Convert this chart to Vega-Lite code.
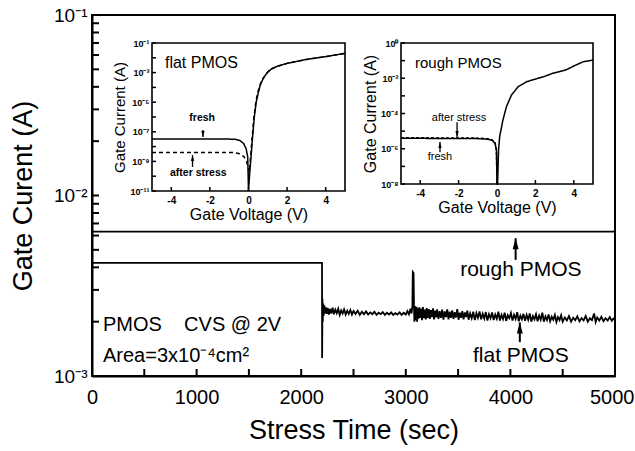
{
  "$schema": "https://vega.github.io/schema/vega-lite/v6.json",
  "width": 523,
  "height": 361,
  "autosize": "none",
  "padding": {"left": 92, "top": 15, "right": 20, "bottom": 75},
  "background": "white",
  "config": {
    "view": {"stroke": "black", "strokeWidth": 2},
    "axis": {"grid": false, "labelFont": "Liberation Sans", "titleFont": "Liberation Sans", "titleFontWeight": "normal", "labelColor": "black", "titleColor": "black", "domainColor": "black", "tickColor": "black", "labelOverlap": false, "labelFlush": false},
    "text": {"font": "Liberation Sans", "color": "black"}
  },
  "datasets": {
    "main": [
      {"t": 0, "I": 0.0063, "s": "rough PMOS"},
      {"t": 5000, "I": 0.0063, "s": "rough PMOS"},
      {"t": 0, "I": 0.00423, "s": "flat PMOS"},
      {"t": 2199, "I": 0.00423, "s": "flat PMOS"},
      {"t": 2200, "I": 0.00126, "s": "flat PMOS"},
      {"t": 2203, "I": 0.00268, "s": "flat PMOS"},
      {"t": 2206, "I": 0.00200, "s": "flat PMOS"},
      {"t": 2210, "I": 0.00252, "s": "flat PMOS"},
      {"t": 2215, "I": 0.00216, "s": "flat PMOS"},
      {"t": 2221, "I": 0.00246, "s": "flat PMOS"},
      {"t": 2228, "I": 0.00222, "s": "flat PMOS"},
      {"t": 2236, "I": 0.00240, "s": "flat PMOS"},
      {"t": 2245, "I": 0.00221, "s": "flat PMOS"},
      {"t": 2255, "I": 0.00238, "s": "flat PMOS"},
      {"t": 2265, "I": 0.00219, "s": "flat PMOS"},
      {"t": 2276, "I": 0.00235, "s": "flat PMOS"},
      {"t": 2288, "I": 0.00222, "s": "flat PMOS"},
      {"t": 2300, "I": 0.00239, "s": "flat PMOS"},
      {"t": 2313, "I": 0.00220, "s": "flat PMOS"},
      {"t": 2326, "I": 0.00233, "s": "flat PMOS"},
      {"t": 2340, "I": 0.00223, "s": "flat PMOS"},
      {"t": 2354, "I": 0.00236, "s": "flat PMOS"},
      {"t": 2368, "I": 0.00218, "s": "flat PMOS"},
      {"t": 2382, "I": 0.00231, "s": "flat PMOS"},
      {"t": 2396, "I": 0.00222, "s": "flat PMOS"},
      {"t": 2410, "I": 0.00234, "s": "flat PMOS"},
      {"t": 2425, "I": 0.00219, "s": "flat PMOS"},
      {"t": 2440, "I": 0.00230, "s": "flat PMOS"},
      {"t": 2455, "I": 0.00221, "s": "flat PMOS"},
      {"t": 2470, "I": 0.00232, "s": "flat PMOS"},
      {"t": 2485, "I": 0.00219, "s": "flat PMOS"},
      {"t": 2500, "I": 0.00229, "s": "flat PMOS"},
      {"t": 2520, "I": 0.00221, "s": "flat PMOS"},
      {"t": 2540, "I": 0.00230, "s": "flat PMOS"},
      {"t": 2560, "I": 0.00218, "s": "flat PMOS"},
      {"t": 2580, "I": 0.00227, "s": "flat PMOS"},
      {"t": 2600, "I": 0.00220, "s": "flat PMOS"},
      {"t": 2620, "I": 0.00228, "s": "flat PMOS"},
      {"t": 2640, "I": 0.00219, "s": "flat PMOS"},
      {"t": 2660, "I": 0.00225, "s": "flat PMOS"},
      {"t": 2680, "I": 0.00220, "s": "flat PMOS"},
      {"t": 2700, "I": 0.00227, "s": "flat PMOS"},
      {"t": 2720, "I": 0.00218, "s": "flat PMOS"},
      {"t": 2740, "I": 0.00224, "s": "flat PMOS"},
      {"t": 2760, "I": 0.00220, "s": "flat PMOS"},
      {"t": 2780, "I": 0.00226, "s": "flat PMOS"},
      {"t": 2800, "I": 0.00218, "s": "flat PMOS"},
      {"t": 2820, "I": 0.00224, "s": "flat PMOS"},
      {"t": 2840, "I": 0.00219, "s": "flat PMOS"},
      {"t": 2860, "I": 0.00225, "s": "flat PMOS"},
      {"t": 2880, "I": 0.00218, "s": "flat PMOS"},
      {"t": 2900, "I": 0.00223, "s": "flat PMOS"},
      {"t": 2920, "I": 0.00219, "s": "flat PMOS"},
      {"t": 2940, "I": 0.00225, "s": "flat PMOS"},
      {"t": 2960, "I": 0.00218, "s": "flat PMOS"},
      {"t": 2980, "I": 0.00224, "s": "flat PMOS"},
      {"t": 3000, "I": 0.00219, "s": "flat PMOS"},
      {"t": 3015, "I": 0.00229, "s": "flat PMOS"},
      {"t": 3030, "I": 0.00220, "s": "flat PMOS"},
      {"t": 3045, "I": 0.00236, "s": "flat PMOS"},
      {"t": 3055, "I": 0.00222, "s": "flat PMOS"},
      {"t": 3063, "I": 0.00245, "s": "flat PMOS"},
      {"t": 3067, "I": 0.00377, "s": "flat PMOS"},
      {"t": 3074, "I": 0.00372, "s": "flat PMOS"},
      {"t": 3078, "I": 0.00250, "s": "flat PMOS"},
      {"t": 3082, "I": 0.00200, "s": "flat PMOS"},
      {"t": 3088, "I": 0.00244, "s": "flat PMOS"},
      {"t": 3095, "I": 0.00204, "s": "flat PMOS"},
      {"t": 3102, "I": 0.00242, "s": "flat PMOS"},
      {"t": 3108, "I": 0.00200, "s": "flat PMOS"},
      {"t": 3115, "I": 0.00238, "s": "flat PMOS"},
      {"t": 3122, "I": 0.00208, "s": "flat PMOS"},
      {"t": 3130, "I": 0.00240, "s": "flat PMOS"},
      {"t": 3138, "I": 0.00210, "s": "flat PMOS"},
      {"t": 3146, "I": 0.00236, "s": "flat PMOS"},
      {"t": 3155, "I": 0.00204, "s": "flat PMOS"},
      {"t": 3164, "I": 0.00241, "s": "flat PMOS"},
      {"t": 3173, "I": 0.00209, "s": "flat PMOS"},
      {"t": 3182, "I": 0.00233, "s": "flat PMOS"},
      {"t": 3191, "I": 0.00206, "s": "flat PMOS"},
      {"t": 3200, "I": 0.00238, "s": "flat PMOS"},
      {"t": 3210, "I": 0.00210, "s": "flat PMOS"},
      {"t": 3220, "I": 0.00235, "s": "flat PMOS"},
      {"t": 3230, "I": 0.00207, "s": "flat PMOS"},
      {"t": 3240, "I": 0.00232, "s": "flat PMOS"},
      {"t": 3250, "I": 0.00212, "s": "flat PMOS"},
      {"t": 3260, "I": 0.00237, "s": "flat PMOS"},
      {"t": 3270, "I": 0.00206, "s": "flat PMOS"},
      {"t": 3280, "I": 0.00230, "s": "flat PMOS"},
      {"t": 3290, "I": 0.00211, "s": "flat PMOS"},
      {"t": 3300, "I": 0.00234, "s": "flat PMOS"},
      {"t": 3312, "I": 0.00207, "s": "flat PMOS"},
      {"t": 3324, "I": 0.00229, "s": "flat PMOS"},
      {"t": 3336, "I": 0.00210, "s": "flat PMOS"},
      {"t": 3348, "I": 0.00233, "s": "flat PMOS"},
      {"t": 3360, "I": 0.00205, "s": "flat PMOS"},
      {"t": 3372, "I": 0.00228, "s": "flat PMOS"},
      {"t": 3384, "I": 0.00212, "s": "flat PMOS"},
      {"t": 3396, "I": 0.00234, "s": "flat PMOS"},
      {"t": 3408, "I": 0.00206, "s": "flat PMOS"},
      {"t": 3420, "I": 0.00227, "s": "flat PMOS"},
      {"t": 3432, "I": 0.00210, "s": "flat PMOS"},
      {"t": 3444, "I": 0.00231, "s": "flat PMOS"},
      {"t": 3456, "I": 0.00207, "s": "flat PMOS"},
      {"t": 3468, "I": 0.00226, "s": "flat PMOS"},
      {"t": 3480, "I": 0.00211, "s": "flat PMOS"},
      {"t": 3492, "I": 0.00235, "s": "flat PMOS"},
      {"t": 3504, "I": 0.00205, "s": "flat PMOS"},
      {"t": 3516, "I": 0.00224, "s": "flat PMOS"},
      {"t": 3528, "I": 0.00210, "s": "flat PMOS"},
      {"t": 3540, "I": 0.00229, "s": "flat PMOS"},
      {"t": 3552, "I": 0.00206, "s": "flat PMOS"},
      {"t": 3564, "I": 0.00225, "s": "flat PMOS"},
      {"t": 3576, "I": 0.00212, "s": "flat PMOS"},
      {"t": 3588, "I": 0.00230, "s": "flat PMOS"},
      {"t": 3600, "I": 0.00205, "s": "flat PMOS"},
      {"t": 3615, "I": 0.00222, "s": "flat PMOS"},
      {"t": 3630, "I": 0.00209, "s": "flat PMOS"},
      {"t": 3645, "I": 0.00227, "s": "flat PMOS"},
      {"t": 3660, "I": 0.00204, "s": "flat PMOS"},
      {"t": 3675, "I": 0.00223, "s": "flat PMOS"},
      {"t": 3690, "I": 0.00210, "s": "flat PMOS"},
      {"t": 3705, "I": 0.00228, "s": "flat PMOS"},
      {"t": 3720, "I": 0.00206, "s": "flat PMOS"},
      {"t": 3735, "I": 0.00221, "s": "flat PMOS"},
      {"t": 3750, "I": 0.00208, "s": "flat PMOS"},
      {"t": 3765, "I": 0.00226, "s": "flat PMOS"},
      {"t": 3780, "I": 0.00203, "s": "flat PMOS"},
      {"t": 3795, "I": 0.00220, "s": "flat PMOS"},
      {"t": 3810, "I": 0.00209, "s": "flat PMOS"},
      {"t": 3825, "I": 0.00225, "s": "flat PMOS"},
      {"t": 3840, "I": 0.00204, "s": "flat PMOS"},
      {"t": 3855, "I": 0.00219, "s": "flat PMOS"},
      {"t": 3870, "I": 0.00208, "s": "flat PMOS"},
      {"t": 3885, "I": 0.00227, "s": "flat PMOS"},
      {"t": 3900, "I": 0.00203, "s": "flat PMOS"},
      {"t": 3915, "I": 0.00218, "s": "flat PMOS"},
      {"t": 3930, "I": 0.00207, "s": "flat PMOS"},
      {"t": 3945, "I": 0.00224, "s": "flat PMOS"},
      {"t": 3960, "I": 0.00202, "s": "flat PMOS"},
      {"t": 3975, "I": 0.00217, "s": "flat PMOS"},
      {"t": 3990, "I": 0.00209, "s": "flat PMOS"},
      {"t": 4005, "I": 0.00223, "s": "flat PMOS"},
      {"t": 4020, "I": 0.00203, "s": "flat PMOS"},
      {"t": 4035, "I": 0.00218, "s": "flat PMOS"},
      {"t": 4050, "I": 0.00207, "s": "flat PMOS"},
      {"t": 4065, "I": 0.00226, "s": "flat PMOS"},
      {"t": 4080, "I": 0.00201, "s": "flat PMOS"},
      {"t": 4095, "I": 0.00216, "s": "flat PMOS"},
      {"t": 4110, "I": 0.00206, "s": "flat PMOS"},
      {"t": 4125, "I": 0.00221, "s": "flat PMOS"},
      {"t": 4140, "I": 0.00202, "s": "flat PMOS"},
      {"t": 4155, "I": 0.00218, "s": "flat PMOS"},
      {"t": 4170, "I": 0.00205, "s": "flat PMOS"},
      {"t": 4185, "I": 0.00222, "s": "flat PMOS"},
      {"t": 4200, "I": 0.00200, "s": "flat PMOS"},
      {"t": 4215, "I": 0.00215, "s": "flat PMOS"},
      {"t": 4230, "I": 0.00206, "s": "flat PMOS"},
      {"t": 4245, "I": 0.00220, "s": "flat PMOS"},
      {"t": 4260, "I": 0.00201, "s": "flat PMOS"},
      {"t": 4275, "I": 0.00216, "s": "flat PMOS"},
      {"t": 4290, "I": 0.00205, "s": "flat PMOS"},
      {"t": 4305, "I": 0.00224, "s": "flat PMOS"},
      {"t": 4320, "I": 0.00200, "s": "flat PMOS"},
      {"t": 4335, "I": 0.00214, "s": "flat PMOS"},
      {"t": 4350, "I": 0.00204, "s": "flat PMOS"},
      {"t": 4365, "I": 0.00219, "s": "flat PMOS"},
      {"t": 4380, "I": 0.00201, "s": "flat PMOS"},
      {"t": 4395, "I": 0.00213, "s": "flat PMOS"},
      {"t": 4410, "I": 0.00205, "s": "flat PMOS"},
      {"t": 4425, "I": 0.00218, "s": "flat PMOS"},
      {"t": 4440, "I": 0.00199, "s": "flat PMOS"},
      {"t": 4455, "I": 0.00212, "s": "flat PMOS"},
      {"t": 4470, "I": 0.00204, "s": "flat PMOS"},
      {"t": 4485, "I": 0.00217, "s": "flat PMOS"},
      {"t": 4500, "I": 0.00200, "s": "flat PMOS"},
      {"t": 4520, "I": 0.00211, "s": "flat PMOS"},
      {"t": 4540, "I": 0.00203, "s": "flat PMOS"},
      {"t": 4560, "I": 0.00215, "s": "flat PMOS"},
      {"t": 4580, "I": 0.00200, "s": "flat PMOS"},
      {"t": 4600, "I": 0.00210, "s": "flat PMOS"},
      {"t": 4620, "I": 0.00204, "s": "flat PMOS"},
      {"t": 4640, "I": 0.00214, "s": "flat PMOS"},
      {"t": 4660, "I": 0.00201, "s": "flat PMOS"},
      {"t": 4680, "I": 0.00209, "s": "flat PMOS"},
      {"t": 4700, "I": 0.00203, "s": "flat PMOS"},
      {"t": 4720, "I": 0.00215, "s": "flat PMOS"},
      {"t": 4740, "I": 0.00200, "s": "flat PMOS"},
      {"t": 4760, "I": 0.00209, "s": "flat PMOS"},
      {"t": 4780, "I": 0.00204, "s": "flat PMOS"},
      {"t": 4800, "I": 0.00222, "s": "flat PMOS"},
      {"t": 4815, "I": 0.00199, "s": "flat PMOS"},
      {"t": 4830, "I": 0.00211, "s": "flat PMOS"},
      {"t": 4850, "I": 0.00203, "s": "flat PMOS"},
      {"t": 4870, "I": 0.00213, "s": "flat PMOS"},
      {"t": 4890, "I": 0.00201, "s": "flat PMOS"},
      {"t": 4910, "I": 0.00209, "s": "flat PMOS"},
      {"t": 4930, "I": 0.00203, "s": "flat PMOS"},
      {"t": 4950, "I": 0.00212, "s": "flat PMOS"},
      {"t": 4970, "I": 0.00202, "s": "flat PMOS"},
      {"t": 4985, "I": 0.00208, "s": "flat PMOS"},
      {"t": 5000, "I": 0.00205, "s": "flat PMOS"}
    ],
    "inset1": [
      {"v": -5, "i": 3.2e-8, "s": "fresh"},
      {"v": -1, "i": 3.2e-8, "s": "fresh"},
      {"v": -0.7, "i": 3.1e-8, "s": "fresh"},
      {"v": -0.45, "i": 2.6e-8, "s": "fresh"},
      {"v": -0.25, "i": 1.6e-8, "s": "fresh"},
      {"v": -0.12, "i": 7e-9, "s": "fresh"},
      {"v": -0.04, "i": 2e-9, "s": "fresh"},
      {"v": 0, "i": 1e-11, "s": "fresh"},
      {"v": 0.06, "i": 1.5e-10, "s": "fresh"},
      {"v": 0.12, "i": 1.3e-9, "s": "fresh"},
      {"v": 0.2, "i": 3e-8, "s": "fresh"},
      {"v": 0.3, "i": 1e-6, "s": "fresh"},
      {"v": 0.4, "i": 1e-5, "s": "fresh"},
      {"v": 0.5, "i": 4e-5, "s": "fresh"},
      {"v": 0.6, "i": 1.3e-4, "s": "fresh"},
      {"v": 0.73, "i": 3.3e-4, "s": "fresh"},
      {"v": 0.85, "i": 6e-4, "s": "fresh"},
      {"v": 1.0, "i": 1.1e-3, "s": "fresh"},
      {"v": 1.2, "i": 1.8e-3, "s": "fresh"},
      {"v": 1.5, "i": 2.7e-3, "s": "fresh"},
      {"v": 2, "i": 4.2e-3, "s": "fresh"},
      {"v": 3, "i": 7.8e-3, "s": "fresh"},
      {"v": 4, "i": 1.2e-2, "s": "fresh"},
      {"v": 5, "i": 2e-2, "s": "fresh"},
      {"v": -5, "i": 4e-9, "s": "after stress"},
      {"v": -0.8, "i": 4e-9, "s": "after stress"},
      {"v": -0.5, "i": 3.4e-9, "s": "after stress"},
      {"v": -0.25, "i": 2.2e-9, "s": "after stress"},
      {"v": -0.1, "i": 1e-9, "s": "after stress"},
      {"v": -0.02, "i": 4e-10, "s": "after stress"},
      {"v": 0.04, "i": 2e-10, "s": "after stress"},
      {"v": 0.1, "i": 1.5e-9, "s": "after stress"},
      {"v": 0.18, "i": 3e-8, "s": "after stress"},
      {"v": 0.28, "i": 1e-6, "s": "after stress"},
      {"v": 0.38, "i": 1e-5, "s": "after stress"},
      {"v": 0.48, "i": 4.5e-5, "s": "after stress"},
      {"v": 0.58, "i": 1.3e-4, "s": "after stress"},
      {"v": 0.7, "i": 3.2e-4, "s": "after stress"},
      {"v": 0.85, "i": 6.2e-4, "s": "after stress"},
      {"v": 1.0, "i": 1.1e-3, "s": "after stress"},
      {"v": 1.2, "i": 1.8e-3, "s": "after stress"},
      {"v": 1.5, "i": 2.7e-3, "s": "after stress"},
      {"v": 2, "i": 4.2e-3, "s": "after stress"},
      {"v": 3, "i": 7.8e-3, "s": "after stress"},
      {"v": 4, "i": 1.2e-2, "s": "after stress"},
      {"v": 5, "i": 2e-2, "s": "after stress"}
    ],
    "inset2": [
      {"v": -5, "i": 3.9e-6, "s": "fresh"},
      {"v": -2, "i": 3.85e-6, "s": "fresh"},
      {"v": -1, "i": 3.75e-6, "s": "fresh"},
      {"v": -0.5, "i": 3.5e-6, "s": "fresh"},
      {"v": -0.25, "i": 3e-6, "s": "fresh"},
      {"v": -0.1, "i": 2e-6, "s": "fresh"},
      {"v": -0.03, "i": 8e-7, "s": "fresh"},
      {"v": 0, "i": 1e-8, "s": "fresh"},
      {"v": 0.03, "i": 1e-8, "s": "fresh"},
      {"v": 0.08, "i": 8e-7, "s": "fresh"},
      {"v": 0.14, "i": 5e-6, "s": "fresh"},
      {"v": 0.31, "i": 4.3e-5, "s": "fresh"},
      {"v": 0.49, "i": 2.4e-4, "s": "fresh"},
      {"v": 0.75, "i": 1.1e-3, "s": "fresh"},
      {"v": 1.1, "i": 3.3e-3, "s": "fresh"},
      {"v": 1.53, "i": 6.3e-3, "s": "fresh"},
      {"v": 1.96, "i": 8.7e-3, "s": "fresh"},
      {"v": 2.5, "i": 1.3e-2, "s": "fresh"},
      {"v": 2.9, "i": 1.9e-2, "s": "fresh"},
      {"v": 3.6, "i": 3e-2, "s": "fresh"},
      {"v": 4.1, "i": 5.6e-2, "s": "fresh"},
      {"v": 4.5, "i": 8.7e-2, "s": "fresh"},
      {"v": 5, "i": 0.107, "s": "fresh"},
      {"v": -5, "i": 4.2e-6, "s": "after stress"},
      {"v": -2, "i": 4.1e-6, "s": "after stress"},
      {"v": -1, "i": 4e-6, "s": "after stress"},
      {"v": -0.5, "i": 3.7e-6, "s": "after stress"},
      {"v": -0.25, "i": 3.2e-6, "s": "after stress"},
      {"v": -0.1, "i": 2.2e-6, "s": "after stress"},
      {"v": -0.03, "i": 9e-7, "s": "after stress"},
      {"v": 0, "i": 1e-8, "s": "after stress"}
    ]
  },
  "layer": [
    {
      "layer": [
        {
          "data": {"name": "main"},
          "mark": {"type": "line", "color": "black", "strokeWidth": 1.8},
          "encoding": {
            "x": {"field": "t", "type": "quantitative", "scale": {"domain": [0, 5000], "nice": false, "zero": false},
              "axis": {"orient": "bottom", "values": [0, 1000, 2000, 3000, 4000, 5000], "labelExpr": "datum.value + ''", "ticks": false, "domainWidth": 2, "labelPadding": 11, "labelFontSize": 20, "labelAlign": {"condition": {"test": "datum.value == 5000", "value": "right"}, "value": "center"}, "labelOffset": {"condition": {"test": "datum.value == 5000", "value": 19}, "value": 0}, "title": "Stress Time (sec)", "titleFontSize": 27, "titlePadding": 10}},
            "y": {"field": "I", "type": "quantitative", "scale": {"type": "log", "domain": [0.001, 0.1], "nice": false},
              "axis": {"orient": "left", "values": [0.001, 0.01, 0.1], "labelExpr": "datum.value == 0.1 ? '10⁻¹' : datum.value == 0.01 ? '10⁻²' : '10⁻³'", "ticks": false, "domainWidth": 2, "labelPadding": 5, "labelFontSize": 19, "title": "Gate Curent (A)", "titleFontSize": 27, "titlePadding": 16}},
            "detail": {"field": "s"}
          }
        },
        {
          "data": {"values": [{"t": 0}, {"t": 500}, {"t": 1000}, {"t": 1500}, {"t": 2000}, {"t": 2500}, {"t": 3000}, {"t": 3500}, {"t": 4000}, {"t": 4500}, {"t": 5000}]},
          "mark": {"type": "point", "shape": "M0,0L0,-1", "size": 196, "strokeWidth": 2, "color": "black", "opacity": 1, "filled": false},
          "encoding": {
            "x": {"field": "t", "type": "quantitative", "scale": {"domain": [0, 5000], "nice": false, "zero": false}},
            "y": {"datum": 0.001, "type": "quantitative", "scale": {"type": "log", "domain": [0.001, 0.1], "nice": false}}
          }
        },
        {
          "data": {"values": [{"I": 0.001}, {"I": 0.002}, {"I": 0.003}, {"I": 0.004}, {"I": 0.005}, {"I": 0.006}, {"I": 0.007}, {"I": 0.008}, {"I": 0.009}, {"I": 0.01}, {"I": 0.02}, {"I": 0.03}, {"I": 0.04}, {"I": 0.05}, {"I": 0.06}, {"I": 0.07}, {"I": 0.08}, {"I": 0.09}, {"I": 0.1}]},
          "mark": {"type": "point", "shape": "M0,0L1,0", "size": 196, "strokeWidth": 2, "color": "black", "opacity": 1, "filled": false},
          "encoding": {
            "x": {"datum": 0, "type": "quantitative", "scale": {"domain": [0, 5000], "nice": false, "zero": false}},
            "y": {"field": "I", "type": "quantitative", "scale": {"type": "log", "domain": [0.001, 0.1], "nice": false}}
          }
        },
        {
          "data": {"values": [
            {"t": 105, "I": 0.00192, "label": "PMOS\u00a0\u00a0\u00a0\u00a0CVS @ 2V"},
            {"t": 105, "I": 0.00129, "label": "Area=3x10⁻⁴cm²"}
          ]},
          "mark": {"type": "text", "align": "left", "baseline": "middle", "fontSize": 20},
          "encoding": {
            "x": {"field": "t", "type": "quantitative", "scale": {"domain": [0, 5000], "nice": false, "zero": false}},
            "y": {"field": "I", "type": "quantitative", "scale": {"type": "log", "domain": [0.001, 0.1], "nice": false}},
            "text": {"field": "label"}
          }
        },
        {
          "data": {"values": [
            {"t": 4100, "I": 0.00386, "label": "rough PMOS"},
            {"t": 4100, "I": 0.00129, "label": "flat PMOS"}
          ]},
          "mark": {"type": "text", "align": "center", "baseline": "middle", "fontSize": 21},
          "encoding": {
            "x": {"field": "t", "type": "quantitative", "scale": {"domain": [0, 5000], "nice": false, "zero": false}},
            "y": {"field": "I", "type": "quantitative", "scale": {"type": "log", "domain": [0.001, 0.1], "nice": false}},
            "text": {"field": "label"}
          }
        },
        {
          "data": {"values": [
            {"t": 4050, "tail": 0.0044, "tip": 0.0058},
            {"t": 4090, "tail": 0.00154, "tip": 0.00198}
          ]},
          "layer": [
            {"mark": {"type": "rule", "color": "black", "strokeWidth": 2},
             "encoding": {
               "x": {"field": "t", "type": "quantitative", "scale": {"domain": [0, 5000], "nice": false, "zero": false}},
               "y": {"field": "tail", "type": "quantitative", "scale": {"type": "log", "domain": [0.001, 0.1], "nice": false}},
               "y2": {"field": "tip"}
             }},
            {"mark": {"type": "point", "filled": true, "color": "black", "opacity": 1, "size": 100, "shape": "M0,0L-0.6,2.2L0.6,2.2Z"},
             "encoding": {
               "x": {"field": "t", "type": "quantitative", "scale": {"domain": [0, 5000], "nice": false, "zero": false}},
               "y": {"field": "tip", "type": "quantitative", "scale": {"type": "log", "domain": [0.001, 0.1], "nice": false}}
             }}
          ]
        }
      ]
    },
    {
      "layer": [
        {
          "data": {"values": [{"v": -5, "v2": 5, "i": 1e-11, "i2": 0.1}]},
          "mark": {"type": "rect", "fillOpacity": 0, "stroke": "black", "strokeWidth": 1.6},
          "encoding": {
            "x": {"field": "v", "type": "quantitative", "scale": {"domain": [-5, 5], "range": [60, 253], "nice": false, "zero": false},
              "axis": {"orient": "bottom", "offset": -185, "values": [-4, -2, 0, 2, 4], "labelExpr": "datum.value + ''", "domain": false, "ticks": false, "labelPadding": 4, "labelFontSize": 10, "labelFontWeight": "bold", "title": "Gate Voltage (V)", "titleFontSize": 16, "titlePadding": 1}},
            "x2": {"field": "v2"},
            "y": {"field": "i", "type": "quantitative", "scale": {"type": "log", "domain": [1e-11, 0.1], "range": [176, 28], "nice": false},
              "axis": {"orient": "left", "offset": -60, "values": [1e-11, 1e-9, 1e-7, 1e-5, 0.001, 0.1], "labelExpr": "datum.value == 0.1 ? '10⁻¹' : datum.value == 0.001 ? '10⁻³' : datum.value == 1e-5 ? '10⁻⁵' : datum.value == 1e-7 ? '10⁻⁷' : datum.value == 1e-9 ? '10⁻⁹' : '10⁻¹¹'", "domain": false, "ticks": false, "labelPadding": 3, "labelFontSize": 9, "labelFontWeight": "bold", "title": "Gate Current (A)", "titleFontSize": 15, "titlePadding": 2}},
            "y2": {"field": "i2"}
          }
        },
        {
          "data": {"values": [{"v": -4}, {"v": -2}, {"v": 0}, {"v": 2}, {"v": 4}]},
          "mark": {"type": "point", "shape": "M0,0L0,-1", "size": 64, "strokeWidth": 1.5, "color": "black", "opacity": 1, "filled": false},
          "encoding": {
            "x": {"field": "v", "type": "quantitative", "scale": {"domain": [-5, 5], "range": [60, 253], "nice": false, "zero": false}},
            "y": {"datum": 1e-11, "type": "quantitative", "scale": {"type": "log", "domain": [1e-11, 0.1], "range": [176, 28], "nice": false}}
          }
        },
        {
          "data": {"values": [{"i": 1e-11}, {"i": 1e-10}, {"i": 1e-9}, {"i": 1e-8}, {"i": 1e-7}, {"i": 1e-6}, {"i": 1e-5}, {"i": 1e-4}, {"i": 0.001}, {"i": 0.01}, {"i": 0.1}]},
          "mark": {"type": "point", "shape": "M0,0L1,0", "size": 64, "strokeWidth": 1.5, "color": "black", "opacity": 1, "filled": false},
          "encoding": {
            "x": {"datum": -5, "type": "quantitative", "scale": {"domain": [-5, 5], "range": [60, 253], "nice": false, "zero": false}},
            "y": {"field": "i", "type": "quantitative", "scale": {"type": "log", "domain": [1e-11, 0.1], "range": [176, 28], "nice": false}}
          }
        },
        {
          "data": {"name": "inset1"},
          "mark": {"type": "line", "color": "black", "strokeWidth": 1.5},
          "encoding": {
            "x": {"field": "v", "type": "quantitative", "scale": {"domain": [-5, 5], "range": [60, 253], "nice": false, "zero": false}},
            "y": {"field": "i", "type": "quantitative", "scale": {"type": "log", "domain": [1e-11, 0.1], "range": [176, 28], "nice": false}},
            "strokeDash": {"field": "s", "type": "nominal", "scale": {"domain": ["fresh", "after stress"], "range": [[1, 0], [4, 3]]}, "legend": null}
          }
        },
        {
          "data": {"values": [{"v": -4.33, "i": 0.0045, "label": "flat PMOS"}]},
          "mark": {"type": "text", "align": "left", "baseline": "middle", "fontSize": 16},
          "encoding": {
            "x": {"field": "v", "type": "quantitative", "scale": {"domain": [-5, 5], "range": [60, 253], "nice": false, "zero": false}},
            "y": {"field": "i", "type": "quantitative", "scale": {"type": "log", "domain": [1e-11, 0.1], "range": [176, 28], "nice": false}},
            "text": {"field": "label"}
          }
        },
        {
          "data": {"values": [
            {"v": -2.4, "i": 8.5e-7, "label": "fresh"},
            {"v": -2.6, "i": 1.7e-10, "label": "after stress"}
          ]},
          "mark": {"type": "text", "align": "center", "baseline": "middle", "fontSize": 10.5, "fontWeight": "bold"},
          "encoding": {
            "x": {"field": "v", "type": "quantitative", "scale": {"domain": [-5, 5], "range": [60, 253], "nice": false, "zero": false}},
            "y": {"field": "i", "type": "quantitative", "scale": {"type": "log", "domain": [1e-11, 0.1], "range": [176, 28], "nice": false}},
            "text": {"field": "label"}
          }
        },
        {
          "data": {"values": [
            {"v": -2.36, "tail": 1.3e-7, "tip": 4.5e-8, "dir": "down"},
            {"v": -2.9, "tail": 4.2e-10, "tip": 2.7e-9, "dir": "up"}
          ]},
          "layer": [
            {"mark": {"type": "rule", "color": "black", "strokeWidth": 1.3},
             "encoding": {
               "x": {"field": "v", "type": "quantitative", "scale": {"domain": [-5, 5], "range": [60, 253], "nice": false, "zero": false}},
               "y": {"field": "tail", "type": "quantitative", "scale": {"type": "log", "domain": [1e-11, 0.1], "range": [176, 28], "nice": false}},
               "y2": {"field": "tip"}
             }},
            {"mark": {"type": "point", "filled": true, "color": "black", "opacity": 1, "size": 30},
             "encoding": {
               "x": {"field": "v", "type": "quantitative", "scale": {"domain": [-5, 5], "range": [60, 253], "nice": false, "zero": false}},
               "y": {"field": "tip", "type": "quantitative", "scale": {"type": "log", "domain": [1e-11, 0.1], "range": [176, 28], "nice": false}},
               "shape": {"field": "dir", "type": "nominal", "scale": {"domain": ["up", "down"], "range": ["M0,0L-0.6,2.2L0.6,2.2Z", "M0,0L-0.6,-2.2L0.6,-2.2Z"]}, "legend": null}
             }}
          ]
        }
      ]
    },
    {
      "layer": [
        {
          "data": {"values": [{"v": -5, "v2": 5, "i": 1e-8, "i2": 1}]},
          "mark": {"type": "rect", "fillOpacity": 0, "stroke": "black", "strokeWidth": 1.6},
          "encoding": {
            "x": {"field": "v", "type": "quantitative", "scale": {"domain": [-5, 5], "range": [309, 501], "nice": false, "zero": false},
              "axis": {"orient": "bottom", "offset": -192, "values": [-4, -2, 0, 2, 4], "labelExpr": "datum.value + ''", "domain": false, "ticks": false, "labelPadding": 4, "labelFontSize": 10, "labelFontWeight": "bold", "title": "Gate Voltage (V)", "titleFontSize": 16, "titlePadding": 1}},
            "x2": {"field": "v2"},
            "y": {"field": "i", "type": "quantitative", "scale": {"type": "log", "domain": [1e-8, 1], "range": [169, 28], "nice": false},
              "axis": {"orient": "left", "offset": -309, "values": [1e-8, 1e-6, 1e-4, 0.01, 1], "labelExpr": "datum.value == 1 ? '10⁰' : datum.value == 0.01 ? '10⁻²' : datum.value == 1e-4 ? '10⁻⁴' : datum.value == 1e-6 ? '10⁻⁶' : '10⁻⁸'", "domain": false, "ticks": false, "labelPadding": 3, "labelFontSize": 9, "labelFontWeight": "bold", "title": "Gate Current (A)", "titleFontSize": 16, "titlePadding": 2}},
            "y2": {"field": "i2"}
          }
        },
        {
          "data": {"values": [{"v": -4}, {"v": -2}, {"v": 0}, {"v": 2}, {"v": 4}]},
          "mark": {"type": "point", "shape": "M0,0L0,-1", "size": 64, "strokeWidth": 1.5, "color": "black", "opacity": 1, "filled": false},
          "encoding": {
            "x": {"field": "v", "type": "quantitative", "scale": {"domain": [-5, 5], "range": [309, 501], "nice": false, "zero": false}},
            "y": {"datum": 1e-8, "type": "quantitative", "scale": {"type": "log", "domain": [1e-8, 1], "range": [169, 28], "nice": false}}
          }
        },
        {
          "data": {"values": [{"i": 1e-8}, {"i": 1e-7}, {"i": 1e-6}, {"i": 1e-5}, {"i": 1e-4}, {"i": 0.001}, {"i": 0.01}, {"i": 0.1}, {"i": 1}]},
          "mark": {"type": "point", "shape": "M0,0L1,0", "size": 64, "strokeWidth": 1.5, "color": "black", "opacity": 1, "filled": false},
          "encoding": {
            "x": {"datum": -5, "type": "quantitative", "scale": {"domain": [-5, 5], "range": [309, 501], "nice": false, "zero": false}},
            "y": {"field": "i", "type": "quantitative", "scale": {"type": "log", "domain": [1e-8, 1], "range": [169, 28], "nice": false}}
          }
        },
        {
          "data": {"name": "inset2"},
          "mark": {"type": "line", "color": "black", "strokeWidth": 1.5},
          "encoding": {
            "x": {"field": "v", "type": "quantitative", "scale": {"domain": [-5, 5], "range": [309, 501], "nice": false, "zero": false}},
            "y": {"field": "i", "type": "quantitative", "scale": {"type": "log", "domain": [1e-8, 1], "range": [169, 28], "nice": false}},
            "strokeDash": {"field": "s", "type": "nominal", "scale": {"domain": ["fresh", "after stress"], "range": [[1, 0], [3, 2]]}, "legend": null}
          }
        },
        {
          "data": {"values": [{"v": -4.27, "i": 0.073, "label": "rough PMOS"}]},
          "mark": {"type": "text", "align": "left", "baseline": "middle", "fontSize": 15},
          "encoding": {
            "x": {"field": "v", "type": "quantitative", "scale": {"domain": [-5, 5], "range": [309, 501], "nice": false, "zero": false}},
            "y": {"field": "i", "type": "quantitative", "scale": {"type": "log", "domain": [1e-8, 1], "range": [169, 28], "nice": false}},
            "text": {"field": "label"}
          }
        },
        {
          "data": {"values": [
            {"v": -1.98, "i": 5.5e-5, "label": "after stress"},
            {"v": -2.97, "i": 3.3e-7, "label": "fresh"}
          ]},
          "mark": {"type": "text", "align": "center", "baseline": "middle", "fontSize": 11},
          "encoding": {
            "x": {"field": "v", "type": "quantitative", "scale": {"domain": [-5, 5], "range": [309, 501], "nice": false, "zero": false}},
            "y": {"field": "i", "type": "quantitative", "scale": {"type": "log", "domain": [1e-8, 1], "range": [169, 28], "nice": false}},
            "text": {"field": "label"}
          }
        },
        {
          "data": {"values": [
            {"v": -2.08, "tail": 3.2e-5, "tip": 4.6e-6, "dir": "down"},
            {"v": -2.97, "tail": 6.4e-7, "tip": 2.4e-6, "dir": "up"}
          ]},
          "layer": [
            {"mark": {"type": "rule", "color": "black", "strokeWidth": 1.3},
             "encoding": {
               "x": {"field": "v", "type": "quantitative", "scale": {"domain": [-5, 5], "range": [309, 501], "nice": false, "zero": false}},
               "y": {"field": "tail", "type": "quantitative", "scale": {"type": "log", "domain": [1e-8, 1], "range": [169, 28], "nice": false}},
               "y2": {"field": "tip"}
             }},
            {"mark": {"type": "point", "filled": true, "color": "black", "opacity": 1, "size": 30},
             "encoding": {
               "x": {"field": "v", "type": "quantitative", "scale": {"domain": [-5, 5], "range": [309, 501], "nice": false, "zero": false}},
               "y": {"field": "tip", "type": "quantitative", "scale": {"type": "log", "domain": [1e-8, 1], "range": [169, 28], "nice": false}},
               "shape": {"field": "dir", "type": "nominal", "scale": {"domain": ["up", "down"], "range": ["M0,0L-0.6,2.2L0.6,2.2Z", "M0,0L-0.6,-2.2L0.6,-2.2Z"]}, "legend": null}
             }}
          ]
        }
      ]
    }
  ],
  "resolve": {"scale": {"x": "independent", "y": "independent", "strokeDash": "independent", "shape": "independent"}}
}
